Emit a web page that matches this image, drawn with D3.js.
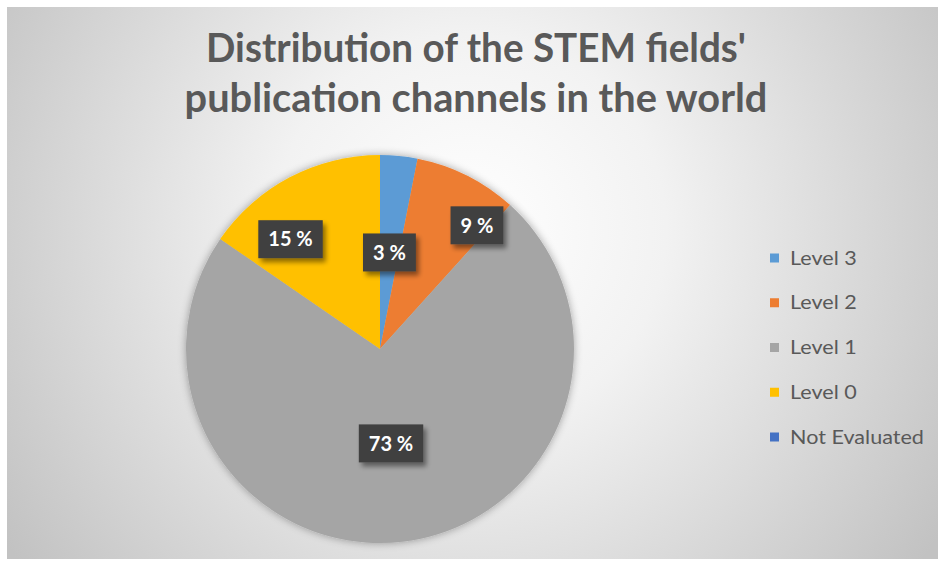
<!DOCTYPE html>
<html>
<head>
<meta charset="utf-8">
<script src="https://cdn.jsdelivr.net/npm/d3@7"></script>
<style>
  html, body { margin: 0; padding: 0; background: #ffffff; }
  svg { display: block; }
</style>
</head>
<body>
<svg id="chart" width="940" height="562"></svg>
<script>
// ---- data ----
const titleLines = ["Distribution of the STEM fields'", "publication channels in the world"];
const categories = ["Level 3", "Level 2", "Level 1", "Level 0", "Not Evaluated"];
const values = [3.1, 8.6, 72.9, 15.4, 0];
const labels = ["3 %", "9 %", "73 %", "15 %", ""];
const colors = ["#5B9BD5", "#ED7D31", "#A5A5A5", "#FFC000", "#4472C4"];

// ---- layout ----
const W = 940, H = 562;
const svg = d3.select("#chart");
const defs = svg.append("defs");

const bg = defs.append("radialGradient").attr("id", "bg")
  .attr("gradientUnits", "userSpaceOnUse")
  .attr("cx", 470).attr("cy", 230).attr("r", 560);
bg.append("stop").attr("offset", "0%").attr("stop-color", "#ffffff");
bg.append("stop").attr("offset", "35%").attr("stop-color", "#f2f2f2");
bg.append("stop").attr("offset", "100%").attr("stop-color", "#c2c2c2");

const sh = defs.append("filter").attr("id", "pieShadow")
  .attr("x", "-20%").attr("y", "-20%").attr("width", "140%").attr("height", "140%");
sh.append("feGaussianBlur").attr("in", "SourceAlpha").attr("stdDeviation", 4).attr("result", "b");
sh.append("feOffset").attr("in", "b").attr("dx", 0).attr("dy", 0).attr("result", "o");
sh.append("feComponentTransfer").attr("in", "o").attr("result", "o2")
  .append("feFuncA").attr("type", "linear").attr("slope", 0.35);
const m1 = sh.append("feMerge");
m1.append("feMergeNode").attr("in", "o2");
m1.append("feMergeNode").attr("in", "SourceGraphic");

const lsh = defs.append("filter").attr("id", "lblShadow")
  .attr("x", "-30%").attr("y", "-30%").attr("width", "160%").attr("height", "170%");
lsh.append("feGaussianBlur").attr("in", "SourceAlpha").attr("stdDeviation", 2.5).attr("result", "b");
lsh.append("feOffset").attr("in", "b").attr("dx", 3).attr("dy", 4).attr("result", "o");
lsh.append("feComponentTransfer").attr("in", "o").attr("result", "o2")
  .append("feFuncA").attr("type", "linear").attr("slope", 0.45);
const m2 = lsh.append("feMerge");
m2.append("feMergeNode").attr("in", "o2");
m2.append("feMergeNode").attr("in", "SourceGraphic");

svg.append("rect").attr("x", 7).attr("y", 7).attr("width", 931).attr("height", 552)
  .attr("fill", "url(#bg)");

// ---- title ----
const fontFam = "Lato, 'Open Sans', sans-serif";
const title = svg.append("g");
const targetWidths = [540, 583];
titleLines.forEach((t, i) => {
  const tx = title.append("text")
    .attr("x", 0).attr("y", 0)
    .attr("text-anchor", "middle")
    .attr("font-family", fontFam).attr("font-weight", "bold")
    .attr("font-size", 40).attr("fill", "#595959").text(t);
  const w = tx.node().getComputedTextLength();
  const s = targetWidths[i] / w;
  tx.attr("transform", `translate(476,${62 + i * 50}) scale(${s},1)`);
});

// ---- pie ----
const cx = 380, cy = 349, R = 194;
const pie = d3.pie().sort(null).value(d => d.v);
const data = categories.map((c, i) => ({ c, v: values[i], l: labels[i], col: colors[i] }));
const arcs = pie(data);
const arc = d3.arc().innerRadius(0).outerRadius(R);
const g = svg.append("g").attr("transform", `translate(${cx},${cy})`);
g.append("g").attr("filter", "url(#pieShadow)")
  .selectAll("path").data(arcs).join("path")
  .attr("d", arc).attr("fill", d => d.data.col);

// label placement (fraction of radius, angle shift in radians) per slice
const labelPlace = {
  "Level 3": [0.5, 0],
  "Level 2": [0.81, 0.2],
  "Level 1": [0.49, 0.0],
  "Level 0": [0.73, -0.2]
};
const lg = g.append("g");
arcs.filter(d => d.data.v > 0).forEach(d => {
  const [f, da] = labelPlace[d.data.c];
  const a = (d.startAngle + d.endAngle) / 2 + da;
  const x = Math.sin(a) * R * f, y = -Math.cos(a) * R * f;
  const gg = lg.append("g").attr("transform", `translate(${x},${y})`);
  const t = gg.append("text")
    .attr("text-anchor", "middle").attr("dy", "0.36em")
    .attr("font-family", fontFam).attr("font-weight", "bold")
    .attr("font-size", 20).attr("fill", "#ffffff").text(d.data.l);
  const bw = t.node().getComputedTextLength() + 20;
  gg.insert("rect", "text")
    .attr("x", -bw / 2).attr("y", -19).attr("width", bw).attr("height", 38)
    .attr("fill", "#404040").attr("filter", "url(#lblShadow)");
});

// ---- legend ----
const leg = svg.append("g").attr("transform", "translate(770,258)");
const ly = d3.scalePoint().domain(categories).range([0, 179]);
const li = leg.selectAll("g").data(data).join("g")
  .attr("transform", d => `translate(0,${ly(d.c)})`);
li.append("rect").attr("x", 0).attr("y", -4.5).attr("width", 9).attr("height", 9)
  .attr("fill", d => d.col);
const legTexts = li.append("text")
  .attr("font-family", fontFam).attr("font-size", 19).attr("fill", "#595959")
  .attr("dy", "0.35em")
  .text(d => d.c);
// match the reference's wide legend lettering with a horizontal stretch
const nw = legTexts.filter(d => d.c === "Not Evaluated").node().getComputedTextLength();
const ls = 134 / nw;
legTexts.attr("transform", `translate(20,0) scale(${ls},1)`);
</script>
</body>
</html>
